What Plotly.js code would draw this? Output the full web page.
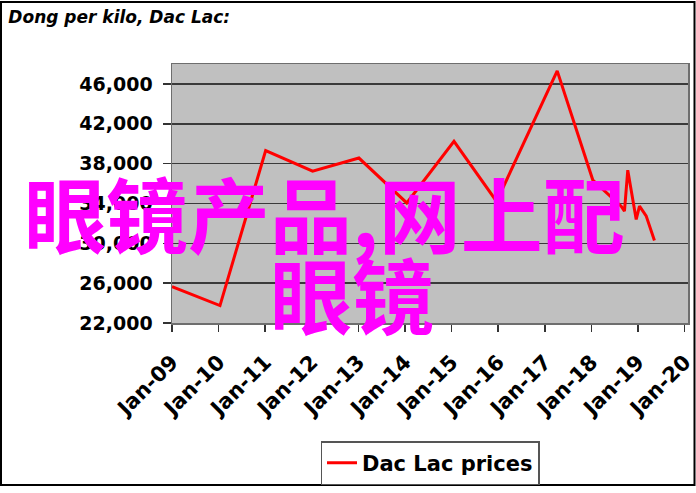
<!DOCTYPE html>
<html>
<head>
<meta charset="utf-8">
<script src="https://cdn.plot.ly/plotly-3.0.1.min.js"></script>
<style>
  html, body { margin: 0; padding: 0; background: #ffffff; }
  #chart { width: 696px; height: 493px; }
</style>
</head>
<body>
<div id="chart"></div>
<script>
// ---- data ----
const seriesName = 'Dac Lac prices';
const dates = [
  '2009-01-01', '2010-01-12', '2011-01-05', '2012-01-08', '2013-01-05',
  '2014-01-15', '2015-01-20', '2015-12-20', '2017-04-08', '2018-01-12',
  '2018-08-22', '2018-09-17', '2018-10-13', '2018-12-18', '2019-01-13',
  '2019-03-06', '2019-05-10'
];
const prices = [
  25650, 23750, 39310, 37240, 38560,
  34050, 40240, 34200, 47310, 36350,
  33720, 33230, 37340, 32400, 33730,
  32760, 30290
];
const yTickVals = [22000, 26000, 30000, 34000, 38000, 42000, 46000];
const yTickText = ['22,000', '26,000', '30,000', '34,000', '38,000', '42,000', '46,000'];
const chartTitle = 'Dong per kilo, Dac Lac:';
const overlayLine1 = '眼镜产品,网上配';
const overlayLine2 = '眼镜';

// ---- layout geometry (pixels) ----
const W = 696, H = 493;
const M = { l: 172, r: 8, t: 64, b: 166 };
const pw = W - M.l - M.r, ph = H - M.t - M.b;
const px = v => (v - M.l) / pw;          // pixel x -> paper x
const py = v => (H - M.b - v) / ph;      // pixel y -> paper y

const yTickFont = { family: 'DejaVu Sans', size: 19, color: '#000000', weight: 'bold' };
const xTickFont = { family: 'DejaVu Sans', size: 21, color: '#000000', weight: 'bold' };

const trace = {
  type: 'scatter',
  mode: 'lines',
  name: seriesName,
  x: dates,
  y: prices,
  line: { color: '#FF0000', width: 3 }
};

const layout = {
  width: W,
  height: H,
  margin: M,
  paper_bgcolor: '#FFFFFF',
  plot_bgcolor: '#C0C0C0',
  showlegend: true,
  title: {
    text: chartTitle,
    xref: 'container', yref: 'container',
    x: 0.012, xanchor: 'left',
    y: 0.978, yanchor: 'top',
    font: { family: 'DejaVu Sans', size: 17, color: '#000000', weight: 'bold', style: 'italic' }
  },
  xaxis: {
    type: 'date',
    automargin: false,
    range: ['2009-01-01', '2020-01-28'],
    tick0: '2009-01-01',
    dtick: 'M12',
    tickformat: '%b-%y',
    tickangle: -45,
    ticks: 'outside',
    ticklen: 7,
    tickwidth: 1.5,
    tickcolor: '#333333',
    ticklabelstandoff: 10,
    tickfont: xTickFont,
    showgrid: false,
    zeroline: false,
    showline: true,
    linecolor: '#6e6e6e',
    linewidth: 1.5,
    mirror: true
  },
  yaxis: {
    automargin: false,
    range: [22000, 48000],
    tickvals: yTickVals,
    ticktext: yTickText,
    ticks: 'outside',
    ticklen: 8,
    tickwidth: 1.5,
    tickcolor: '#333333',
    ticklabelstandoff: 6,
    tickfont: yTickFont,
    showgrid: true,
    gridcolor: '#3a3a3a',
    gridwidth: 1.6,
    zeroline: false,
    showline: true,
    linecolor: '#6e6e6e',
    linewidth: 1.5,
    mirror: true
  },
  legend: {
    orientation: 'h',
    x: px(430), xanchor: 'center',
    y: py(447), yanchor: 'top',
    bgcolor: '#FFFFFF',
    bordercolor: '#555555',
    borderwidth: 1.5,
    font: { family: 'DejaVu Sans', size: 21, color: '#000000', weight: 'bold' }
  },
  annotations: [
    {
      text: overlayLine1,
      xref: 'paper', yref: 'paper',
      x: px(324), y: py(214),
      xanchor: 'center', yanchor: 'middle',
      showarrow: false,
      font: { family: 'Noto Sans CJK SC', size: 82, color: '#FF00FF', weight: 'bold' }
    },
    {
      text: overlayLine2,
      xref: 'paper', yref: 'paper',
      x: px(352), y: py(296),
      xanchor: 'center', yanchor: 'middle',
      showarrow: false,
      font: { family: 'Noto Sans CJK SC', size: 82, color: '#FF00FF', weight: 'bold' }
    }
  ],
  shapes: [
    {
      type: 'rect',
      xref: 'paper', yref: 'paper',
      x0: px(1), x1: px(694.5),
      y0: py(491.5), y1: py(1),
      line: { color: '#000000', width: 2 },
      fillcolor: 'rgba(0,0,0,0)',
      layer: 'above'
    }
  ]
};

Plotly.newPlot('chart', [trace], layout, { displayModeBar: false, staticPlot: true });
</script>
</body>
</html>
